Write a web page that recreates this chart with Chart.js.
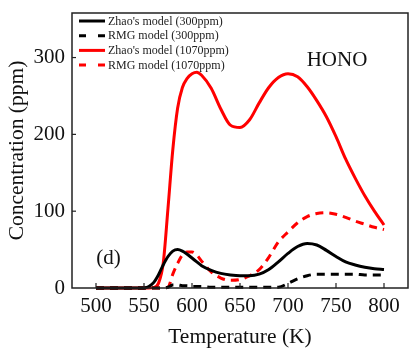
<!DOCTYPE html>
<html>
<head>
<meta charset="utf-8">
<script src="https://cdn.jsdelivr.net/npm/chart.js@4"></script>
<style>
  html, body { margin: 0; padding: 0; background: #fff; }
  #wrap { width: 410px; height: 348px; }
</style>
</head>
<body>
<div id="wrap"><canvas id="honoChart" width="410" height="348"></canvas></div>
<script>
// Temperature grid (K) shared by all series
const temps = [500, 520, 540, 550, 555, 560, 565, 570, 575, 580, 585, 590, 595, 600, 605, 610,
  620, 630, 640, 650, 660, 670, 680, 690, 700, 710, 720, 730, 740, 750, 760, 770, 780, 790, 800];

// HONO concentration (ppm)
const zhao300 = [0, 0, 0, 0, 2, 7, 17, 30, 41, 48, 50, 48, 44, 39, 34, 29,
  23, 19, 17, 16, 16, 18, 24, 34, 45, 54, 58, 56, 49, 41, 34, 30, 27, 25, 24];
const rmg300 = [0, 0, 0, 0, 0, 0, 0, 0, 1, 4, 4, 3, 3, 2, 2, 2,
  1, 1, 1, 1, 1, 1, 1, 1, 6, 12, 16, 18, 18, 18, 18, 18, 17, 17, 17];
const zhao1070 = [0, 0, 0, 0, 0, 0.5, 6, 32, 104, 180, 234, 261, 273, 279, 281, 277,
  260, 233, 212, 209, 219, 241, 261, 274, 279, 275, 262, 244, 223, 197, 168, 143, 120, 100, 82];
const rmg1070 = [0, 0, 0, 0, 0, 0, 0, 0, 1, 18, 32, 43, 47, 47, 43, 35,
  21, 13, 10, 11, 16, 24, 40, 60, 73, 85, 93, 97, 98, 96, 92, 87, 83, 79, 76];

const seriesLabels = ["Zhao's model (300ppm)", "RMG model (300ppm)", "Zhao's model (1070ppm)", "RMG model (1070ppm)"];

const serif = '"Liberation Serif", "DejaVu Serif", serif';
const pts = arr => temps.map((t, i) => ({ x: t, y: arr[i] }));

const line = (label, arr, color, dashed) => ({
  label: label,
  data: pts(arr),
  borderColor: color,
  backgroundColor: color,
  borderWidth: 3,
  borderDash: dashed ? [8, 6] : [],
  pointRadius: 0,
  cubicInterpolationMode: 'monotone',
  clip: false,
  dashed: dashed
});

// frame, inward ticks, legend and text labels
const decorPlugin = {
  id: 'decor',
  afterDatasetsDraw(chart) {
    const { ctx, chartArea: a, scales } = chart;
    ctx.save();
    ctx.strokeStyle = '#222';
    ctx.lineWidth = 1.5;
    ctx.strokeRect(a.left, a.top, a.right - a.left, a.bottom - a.top);

    ctx.lineWidth = 1.2;
    scales.y.ticks.forEach(t => {
      if (t.value <= 0) return;
      const y = scales.y.getPixelForValue(t.value);
      ctx.beginPath(); ctx.moveTo(a.left, y); ctx.lineTo(a.left + 4, y); ctx.stroke();
    });
    scales.x.ticks.forEach(t => {
      if (t.value < 500 || t.value > 800) return;
      const x = scales.x.getPixelForValue(t.value);
      ctx.beginPath(); ctx.moveTo(x, a.bottom); ctx.lineTo(x, a.bottom - 5); ctx.stroke();
    });

    // legend
    ctx.font = '12px ' + serif;
    ctx.textBaseline = 'middle';
    ctx.textAlign = 'left';
    chart.data.datasets.forEach((ds, i) => {
      const y = a.top + 8 + i * 14.7;
      ctx.strokeStyle = ds.borderColor;
      ctx.lineWidth = 3;
      ctx.setLineDash(ds.dashed ? [7, 12] : []);
      ctx.beginPath(); ctx.moveTo(a.left + 7, y); ctx.lineTo(a.left + 33, y); ctx.stroke();
      ctx.setLineDash([]);
      ctx.fillStyle = '#222';
      ctx.fillText(ds.label, a.left + 36, y + 0.5);
    });

    ctx.font = '21px ' + serif;
    ctx.textAlign = 'center';
    ctx.fillStyle = '#111';
    ctx.fillText('HONO', scales.x.getPixelForValue(751), scales.y.getPixelForValue(296));
    ctx.fillText('(d)', scales.x.getPixelForValue(513), scales.y.getPixelForValue(39));
    ctx.restore();
  }
};

new Chart(document.getElementById('honoChart').getContext('2d'), {
  type: 'line',
  data: {
    datasets: [
      line(seriesLabels[0], zhao300, '#000000', false),
      line(seriesLabels[1], rmg300, '#000000', true),
      line(seriesLabels[2], zhao1070, '#ff0000', false),
      line(seriesLabels[3], rmg1070, '#ff0000', true)
    ]
  },
  options: {
    responsive: false,
    animation: false,
    layout: { padding: { top: 13, right: 2, left: 0, bottom: 0 } },
    plugins: { legend: { display: false }, tooltip: { enabled: false } },
    scales: {
      x: {
        type: 'linear', min: 475, max: 825,
        afterFit: s => { s.height = 60; s.paddingLeft = 0; s.paddingRight = 0; },
        grid: { display: true, drawOnChartArea: false, drawTicks: true, tickLength: 5, color: 'rgba(0,0,0,0)' },
        border: { display: false },
        ticks: {
          stepSize: 25, padding: 1, color: '#111', maxRotation: 0, autoSkip: false,
          font: { family: serif, size: 21 },
          callback: v => (v % 50 === 0 && v >= 500 && v <= 800) ? v : null
        },
        title: { display: true, text: 'Temperature (K)', color: '#111',
          font: { family: serif, size: 21.5, lineHeight: 1 }, padding: { top: 0, bottom: 0 } }
      },
      y: {
        min: 0, max: 358,
        afterFit: s => { s.width = 72; s.paddingTop = 0; s.paddingBottom = 0; },
        afterBuildTicks: s => { s.ticks = s.ticks.filter(t => t.value % 50 === 0); },
        grid: { display: false, drawTicks: false },
        border: { display: false },
        ticks: {
          stepSize: 50, padding: 7, color: '#111',
          font: { family: serif, size: 21 },
          callback: v => (v % 100 === 0) ? v : null
        },
        title: { display: true, text: 'Concentration (ppm)', color: '#111',
          font: { family: serif, size: 21.5, lineHeight: 1 }, padding: { top: 7, bottom: 0 } }
      }
    }
  },
  plugins: [decorPlugin]
});
</script>
</body>
</html>
